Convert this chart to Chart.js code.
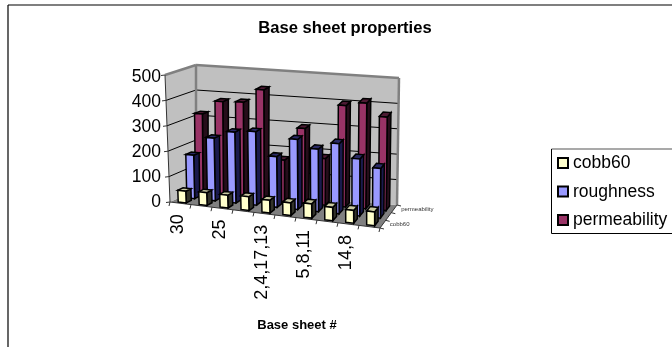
<!DOCTYPE html>
<html>
<head>
<meta charset="utf-8">
<style>
  html, body { margin: 0; padding: 0; background: #fff; overflow: hidden; }
  #wrap { width: 672px; height: 347px; }
</style>
<script src="https://cdn.jsdelivr.net/npm/chart.js@4/dist/chart.umd.js"></script>
</head>
<body>
<div id="wrap"><canvas id="chartBaseSheet" width="672" height="347"></canvas></div>
<script>
const categories = ["30", "", "25", "", "2,4,17,13", "", "5,8,11", "", "14,8", ""];
const cobb60 = [46, 50, 50, 54, 50, 50, 56, 52, 50, 54];
const roughness = [172, 248, 280, 290, 200, 276, 246, 276, 224, 195];
const permeability = [320, 376, 380, 436, 164, 296, 184, 400, 416, 368];
const valueTicks = [0, 100, 200, 300, 400, 500];

// Corners of the 3D box on screen: front/back, left/right, bottom/top
const box = {
  flb: [170, 202], flt: [165, 75], frb: [380, 228], frt: [380, 101],
  blb: [196, 190], blt: [196, 65], brb: [397, 205], brt: [399, 78],
};

const mix = (a, b, t) => [a[0] + (b[0] - a[0]) * t, a[1] + (b[1] - a[1]) * t];

// u along the categories, w going back, t going up (all 0..1)
const project = (u, w, t) => {
  const fb = mix(box.flb, box.frb, u), ft = mix(box.flt, box.frt, u);
  const bb = mix(box.blb, box.brb, u), bt = mix(box.blt, box.brt, u);
  return mix(mix(fb, bb, w), mix(ft, bt, w), t);
};

const poly = (ctx, pts, fill, stroke, lw) => {
  ctx.beginPath();
  pts.forEach((p, i) => (i ? ctx.lineTo(p[0], p[1]) : ctx.moveTo(p[0], p[1])));
  ctx.closePath();
  if (fill) { ctx.fillStyle = fill; ctx.fill(); }
  if (stroke) { ctx.strokeStyle = stroke; ctx.lineWidth = lw || 1; ctx.stroke(); }
};

const line = (ctx, a, b, color, lw) => {
  ctx.beginPath();
  ctx.moveTo(a[0], a[1]);
  ctx.lineTo(b[0], b[1]);
  ctx.strokeStyle = color;
  ctx.lineWidth = lw || 1;
  ctx.stroke();
};

const drawWalls = (chart) => {
  const { ctx } = chart;
  const y = chart.scales.y;
  const tOf = (v) => (y.bottom - y.getPixelForValue(v)) / (y.bottom - y.top);

  poly(ctx, [box.flb, box.frb, box.brb, box.blb], "#808080");
  poly(ctx, [box.flb, box.flt, box.blt, box.blb], "#c0c0c0");
  poly(ctx, [box.blb, box.blt, box.brt, box.brb], "#c0c0c0");

  valueTicks.forEach((v) => {
    if (v === 0 || v === 500) return;
    const t = tOf(v);
    line(ctx, project(0, 0, t), project(0, 1, t), "#000");
    line(ctx, project(0, 1, t), project(1, 1, t), "#000");
  });

  // wall edges
  line(ctx, box.flt, box.blt, "#808080", 2.5);
  line(ctx, box.blt, box.brt, "#808080", 2.5);
  line(ctx, box.blt, box.blb, "#808080", 2.5);
  line(ctx, box.brt, box.brb, "#808080", 2.5);
  line(ctx, box.flt, box.flb, "#333", 1);
  line(ctx, box.flb, box.frb, "#333", 1);
  line(ctx, box.frb, box.brb, "#333", 1);

  // ticks on the left edge
  valueTicks.forEach((v) => {
    const p = project(0, 0, tOf(v));
    line(ctx, p, [p[0] - 4, p[1] + 0.5], "#333");
  });
};

const drawBars = (chart) => {
  const { ctx } = chart;
  const x = chart.scales.x, y = chart.scales.y;
  const barU = 0.38 * (x.getPixelForValue(1) - x.getPixelForValue(0)) / x.width;
  const depth = 0.2;

  // back row first, so nearer rows paint over it
  for (let s = chart.data.datasets.length - 1; s >= 0; s--) {
    const ds = chart.data.datasets[s];
    const w0 = (s + 0.5) / 3 - depth / 2, w1 = w0 + depth;
    ds.data.forEach((v, i) => {
      const u0 = (x.getPixelForValue(i) - x.left) / x.width - barU / 2, u1 = u0 + barU;
      const t = (y.bottom - y.getPixelForValue(v)) / (y.bottom - y.top);
      const a = project(u0, w0, 0), b = project(u1, w0, 0), c = project(u1, w0, t), d = project(u0, w0, t);
      const e = project(u1, w1, 0), f = project(u1, w1, t), g = project(u0, w1, t);
      poly(ctx, [b, e, f, c], ds.sideColor, "#000", 1.5);
      poly(ctx, [d, c, f, g], ds.topColor, "#000", 1.5);
      poly(ctx, [a, b, c, d], ds.backgroundColor, "#000", 1.5);
    });
  }
};

const drawAxisText = (chart) => {
  const { ctx } = chart;
  const x = chart.scales.x;

  // category axis runs along the front edge of the floor
  for (let i = 0; i <= categories.length; i++) {
    const p = project(i / categories.length, 0, 0);
    line(ctx, p, [p[0] - 1, p[1] + 4], "#333");
  }
  ctx.fillStyle = "#000";
  ctx.font = "18px 'Liberation Sans'";
  ctx.textAlign = "right";
  ctx.textBaseline = "middle";
  categories.forEach((label, i) => {
    if (!label) return;
    const p = project((x.getPixelForValue(i) - x.left) / x.width, 0, 0);
    ctx.save();
    ctx.translate(p[0] - 2, p[1] + 11);
    ctx.rotate(-Math.PI / 2);
    ctx.fillText(label, 0, 0);
    ctx.restore();
  });

  // series axis on the right side of the floor
  ctx.font = "6px 'Liberation Sans'";
  ctx.textAlign = "left";
  ctx.fillStyle = "#333";
  const depthLabels = [chart.data.datasets[0].label, "", chart.data.datasets[2].label];
  for (let s = 0; s <= 3; s++) {
    const p = project(1, s / 3, 0);
    line(ctx, p, [p[0] + 4, p[1] + 1], "#333");
  }
  depthLabels.forEach((label, s) => {
    if (!label) return;
    const p = project(1, (s + 0.5) / 3, 0);
    ctx.fillText(label, p[0] + 7, p[1] + 0.5);
  });

  ctx.fillStyle = "#000";
  ctx.font = "bold 13px 'Liberation Sans'";
  ctx.textAlign = "center";
  ctx.fillText("Base sheet #", 297, 325);
};

const drawFrameAndLegend = (chart) => {
  const { ctx } = chart;
  line(ctx, [8, 5], [672, 5], "#000", 1.2);
  line(ctx, [8, 5], [8, 347], "#000", 1.2);

  line(ctx, [551.5, 149], [672, 149], "#555", 1.2);
  line(ctx, [551.5, 149], [551.5, 233.5], "#000", 1);
  line(ctx, [551.5, 233.5], [672, 233.5], "#000", 1);
  ctx.font = "17.5px 'Liberation Sans'";
  ctx.textAlign = "left";
  ctx.textBaseline = "middle";
  chart.data.datasets.forEach((ds, i) => {
    const top = 158 + i * 28.5;
    ctx.fillStyle = ds.backgroundColor;
    ctx.strokeStyle = "#000";
    ctx.lineWidth = 2;
    ctx.fillRect(558, top, 10, 10);
    ctx.strokeRect(558, top, 10, 10);
    ctx.fillStyle = "#000";
    ctx.fillText(ds.label, 573, top + 5.5);
  });
};

const box3d = {
  id: "box3d",
  beforeDatasetsDraw(chart) {
    drawWalls(chart);
    drawBars(chart);
    drawAxisText(chart);
    drawFrameAndLegend(chart);
    return false; // flat bars are replaced by the boxes above
  },
};

const ctx = document.getElementById("chartBaseSheet").getContext("2d");
const myChart = new Chart(ctx, {
  type: "bar",
  data: {
    labels: categories,
    datasets: [
      { label: "cobb60", data: cobb60, backgroundColor: "#ffffcc", topColor: "#c8c8a0", sideColor: "#33332a" },
      { label: "roughness", data: roughness, backgroundColor: "#9999ff", topColor: "#2a2a66", sideColor: "#1a1a4d" },
      { label: "permeability", data: permeability, backgroundColor: "#993366", topColor: "#4d1a33", sideColor: "#260d1a" },
    ],
  },
  options: {
    responsive: false,
    animation: false,
    layout: { padding: { left: 18, bottom: 145 } },
    scales: {
      x: { display: false },
      y: {
        min: 0,
        max: 500,
        afterFit: (scale) => { scale.width = 150; },
        grid: { display: false, tickLength: 4 },
        border: { display: false },
        ticks: {
          stepSize: 100,
          padding: 3,
          color: "#000",
          font: { family: "'Liberation Sans'", size: 17.5 },
        },
      },
    },
    plugins: {
      legend: { display: false },
      tooltip: { enabled: false },
      title: {
        display: true,
        text: "Base sheet properties",
        color: "#000",
        font: { family: "'Liberation Sans'", size: 16.6, weight: "bold" },
        padding: { top: 18, bottom: 39 },
      },
    },
  },
  plugins: [box3d],
});
</script>
</body>
</html>
